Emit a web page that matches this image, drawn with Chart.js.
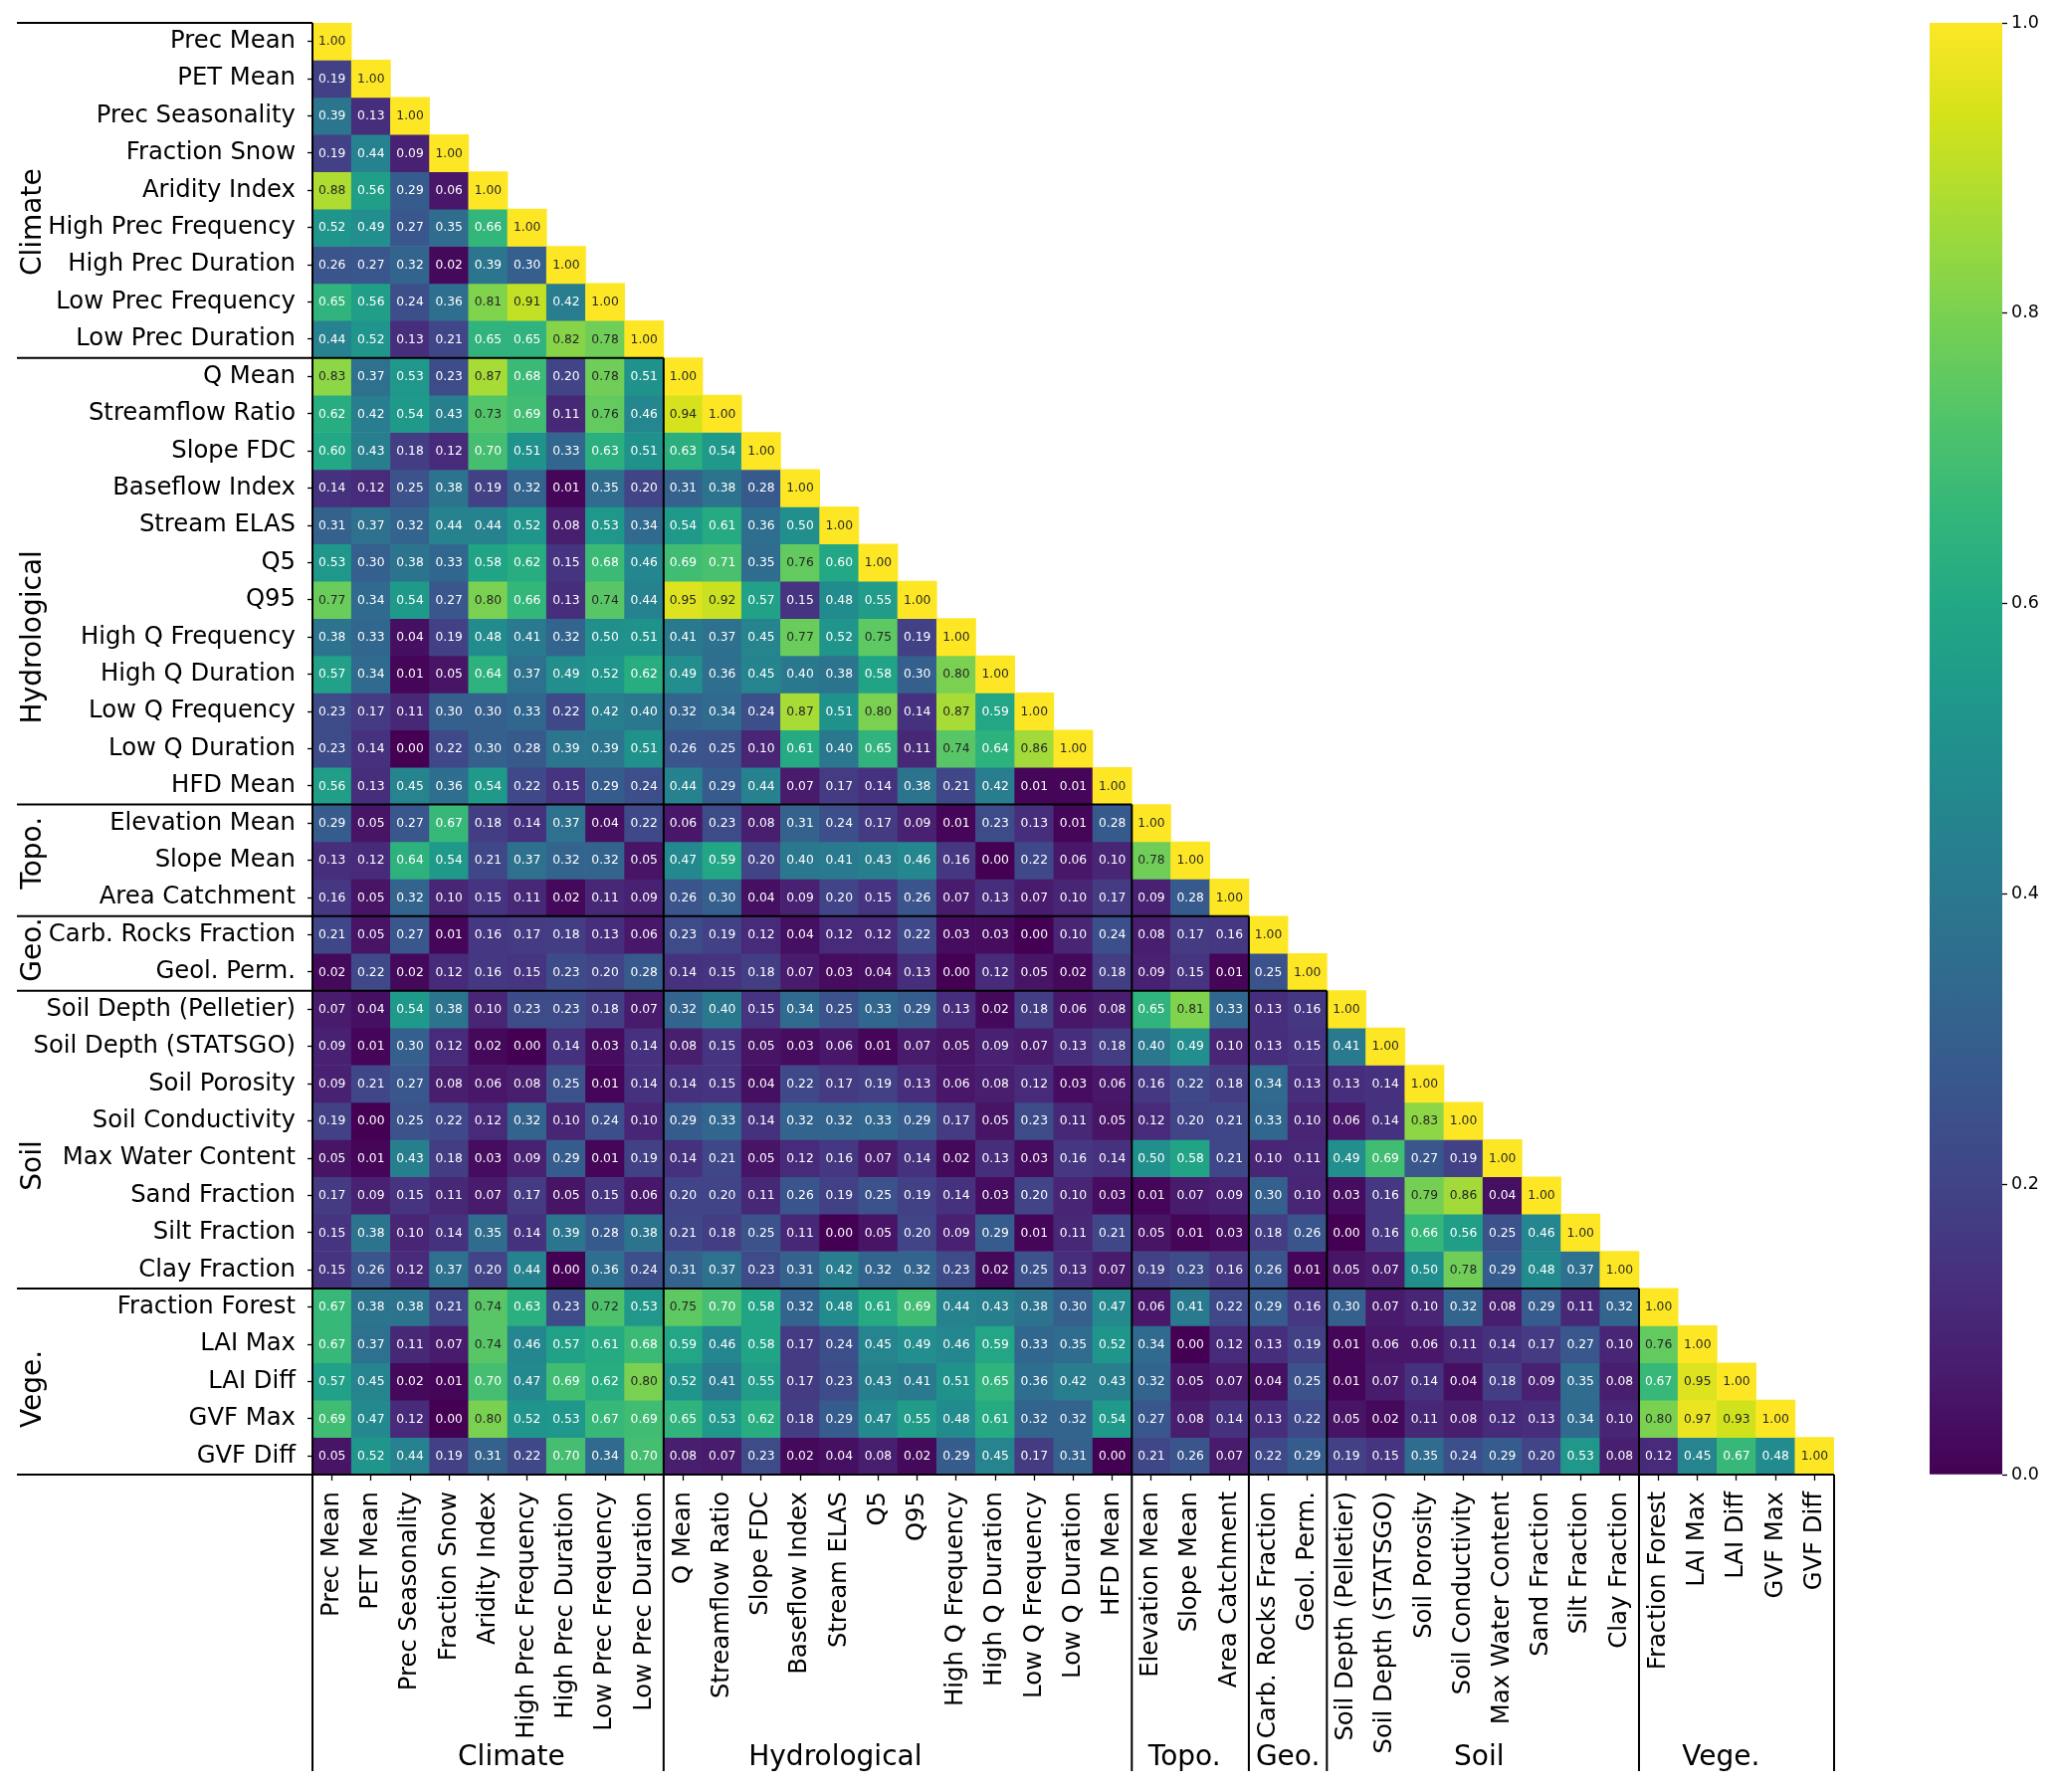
<!DOCTYPE html>
<html>
<head>
<meta charset="utf-8">
<title>Attribute correlation heatmap</title>
<script src="https://cdn.jsdelivr.net/npm/chart.js@4.4.0/dist/chart.umd.min.js"></script>
<style>
  html, body { margin: 0; padding: 0; background: #fff; }
  #wrap { position: relative; width: 2067px; height: 1801px; }
  #heat { position: absolute; left: 0; top: 0; }
  #cbar { position: absolute; left: 1900px; top: 0; }
</style>
</head>
<body>
<div id="wrap">
  <canvas id="heat" width="2067" height="1801"></canvas>
  <canvas id="cbar" width="167" height="1801"></canvas>
</div>
<script>
// attribute names per group
const climateLabels = ['Prec Mean', 'PET Mean', 'Prec Seasonality', 'Fraction Snow', 'Aridity Index',
    'High Prec Frequency', 'High Prec Duration', 'Low Prec Frequency', 'Low Prec Duration'];
const hydroLabels = ['Q Mean', 'Streamflow Ratio', 'Slope FDC', 'Baseflow Index', 'Stream ELAS', 'Q5', 'Q95',
    'High Q Frequency', 'High Q Duration', 'Low Q Frequency', 'Low Q Duration', 'HFD Mean'];
const topoLabels = ['Elevation Mean', 'Slope Mean', 'Area Catchment'];
const geoLabels = ['Carb. Rocks Fraction', 'Geol. Perm.'];
const soilLabels = ['Soil Depth (Pelletier)', 'Soil Depth (STATSGO)', 'Soil Porosity', 'Soil Conductivity',
    'Max Water Content', 'Sand Fraction', 'Silt Fraction', 'Clay Fraction'];
const vegeLabels = ['Fraction Forest', 'LAI Max', 'LAI Diff', 'GVF Max', 'GVF Diff'];
const groupNames = ['Climate', 'Hydrological', 'Topo.', 'Geo.', 'Soil', 'Vege.'];

// lower triangle rows (absolute correlation), grouped like the labels
const climateRows = [
    [1.00],
    [0.19, 1.00],
    [0.39, 0.13, 1.00],
    [0.19, 0.44, 0.09, 1.00],
    [0.88, 0.56, 0.29, 0.06, 1.00],
    [0.52, 0.49, 0.27, 0.35, 0.66, 1.00],
    [0.26, 0.27, 0.32, 0.02, 0.39, 0.30, 1.00],
    [0.65, 0.56, 0.24, 0.36, 0.81, 0.91, 0.42, 1.00],
    [0.44, 0.52, 0.13, 0.21, 0.65, 0.65, 0.82, 0.78, 1.00]
];
const hydroRows = [
    [0.83, 0.37, 0.53, 0.23, 0.87, 0.68, 0.20, 0.78, 0.51, 1.00],
    [0.62, 0.42, 0.54, 0.43, 0.73, 0.69, 0.11, 0.76, 0.46, 0.94, 1.00],
    [0.60, 0.43, 0.18, 0.12, 0.70, 0.51, 0.33, 0.63, 0.51, 0.63, 0.54, 1.00],
    [0.14, 0.12, 0.25, 0.38, 0.19, 0.32, 0.01, 0.35, 0.20, 0.31, 0.38, 0.28, 1.00],
    [0.31, 0.37, 0.32, 0.44, 0.44, 0.52, 0.08, 0.53, 0.34, 0.54, 0.61, 0.36, 0.50, 1.00],
    [0.53, 0.30, 0.38, 0.33, 0.58, 0.62, 0.15, 0.68, 0.46, 0.69, 0.71, 0.35, 0.76, 0.60, 1.00],
    [0.77, 0.34, 0.54, 0.27, 0.80, 0.66, 0.13, 0.74, 0.44, 0.95, 0.92, 0.57, 0.15, 0.48, 0.55, 1.00],
    [0.38, 0.33, 0.04, 0.19, 0.48, 0.41, 0.32, 0.50, 0.51, 0.41, 0.37, 0.45, 0.77, 0.52, 0.75, 0.19, 1.00],
    [0.57, 0.34, 0.01, 0.05, 0.64, 0.37, 0.49, 0.52, 0.62, 0.49, 0.36, 0.45, 0.40, 0.38, 0.58, 0.30, 0.80, 1.00],
    [0.23, 0.17, 0.11, 0.30, 0.30, 0.33, 0.22, 0.42, 0.40, 0.32, 0.34, 0.24, 0.87, 0.51, 0.80, 0.14, 0.87, 0.59, 1.00],
    [0.23, 0.14, 0.00, 0.22, 0.30, 0.28, 0.39, 0.39, 0.51, 0.26, 0.25, 0.10, 0.61, 0.40, 0.65, 0.11, 0.74, 0.64, 0.86, 1.00],
    [0.56, 0.13, 0.45, 0.36, 0.54, 0.22, 0.15, 0.29, 0.24, 0.44, 0.29, 0.44, 0.07, 0.17, 0.14, 0.38, 0.21, 0.42, 0.01, 0.01, 1.00]
];
const topoRows = [
    [0.29, 0.05, 0.27, 0.67, 0.18, 0.14, 0.37, 0.04, 0.22, 0.06, 0.23, 0.08, 0.31, 0.24, 0.17, 0.09, 0.01, 0.23, 0.13, 0.01, 0.28, 1.00],
    [0.13, 0.12, 0.64, 0.54, 0.21, 0.37, 0.32, 0.32, 0.05, 0.47, 0.59, 0.20, 0.40, 0.41, 0.43, 0.46, 0.16, 0.00, 0.22, 0.06, 0.10, 0.78, 1.00],
    [0.16, 0.05, 0.32, 0.10, 0.15, 0.11, 0.02, 0.11, 0.09, 0.26, 0.30, 0.04, 0.09, 0.20, 0.15, 0.26, 0.07, 0.13, 0.07, 0.10, 0.17, 0.09, 0.28, 1.00]
];
const geoRows = [
    [0.21, 0.05, 0.27, 0.01, 0.16, 0.17, 0.18, 0.13, 0.06, 0.23, 0.19, 0.12, 0.04, 0.12, 0.12, 0.22, 0.03, 0.03, 0.00, 0.10, 0.24, 0.08, 0.17, 0.16, 1.00],
    [0.02, 0.22, 0.02, 0.12, 0.16, 0.15, 0.23, 0.20, 0.28, 0.14, 0.15, 0.18, 0.07, 0.03, 0.04, 0.13, 0.00, 0.12, 0.05, 0.02, 0.18, 0.09, 0.15, 0.01, 0.25, 1.00]
];
const soilRows = [
    [0.07, 0.04, 0.54, 0.38, 0.10, 0.23, 0.23, 0.18, 0.07, 0.32, 0.40, 0.15, 0.34, 0.25, 0.33, 0.29, 0.13, 0.02, 0.18, 0.06, 0.08, 0.65, 0.81, 0.33, 0.13, 0.16, 1.00],
    [0.09, 0.01, 0.30, 0.12, 0.02, 0.00, 0.14, 0.03, 0.14, 0.08, 0.15, 0.05, 0.03, 0.06, 0.01, 0.07, 0.05, 0.09, 0.07, 0.13, 0.18, 0.40, 0.49, 0.10, 0.13, 0.15, 0.41, 1.00],
    [0.09, 0.21, 0.27, 0.08, 0.06, 0.08, 0.25, 0.01, 0.14, 0.14, 0.15, 0.04, 0.22, 0.17, 0.19, 0.13, 0.06, 0.08, 0.12, 0.03, 0.06, 0.16, 0.22, 0.18, 0.34, 0.13, 0.13, 0.14, 1.00],
    [0.19, 0.00, 0.25, 0.22, 0.12, 0.32, 0.10, 0.24, 0.10, 0.29, 0.33, 0.14, 0.32, 0.32, 0.33, 0.29, 0.17, 0.05, 0.23, 0.11, 0.05, 0.12, 0.20, 0.21, 0.33, 0.10, 0.06, 0.14, 0.83, 1.00],
    [0.05, 0.01, 0.43, 0.18, 0.03, 0.09, 0.29, 0.01, 0.19, 0.14, 0.21, 0.05, 0.12, 0.16, 0.07, 0.14, 0.02, 0.13, 0.03, 0.16, 0.14, 0.50, 0.58, 0.21, 0.10, 0.11, 0.49, 0.69, 0.27, 0.19, 1.00],
    [0.17, 0.09, 0.15, 0.11, 0.07, 0.17, 0.05, 0.15, 0.06, 0.20, 0.20, 0.11, 0.26, 0.19, 0.25, 0.19, 0.14, 0.03, 0.20, 0.10, 0.03, 0.01, 0.07, 0.09, 0.30, 0.10, 0.03, 0.16, 0.79, 0.86, 0.04, 1.00],
    [0.15, 0.38, 0.10, 0.14, 0.35, 0.14, 0.39, 0.28, 0.38, 0.21, 0.18, 0.25, 0.11, 0.00, 0.05, 0.20, 0.09, 0.29, 0.01, 0.11, 0.21, 0.05, 0.01, 0.03, 0.18, 0.26, 0.00, 0.16, 0.66, 0.56, 0.25, 0.46, 1.00],
    [0.15, 0.26, 0.12, 0.37, 0.20, 0.44, 0.00, 0.36, 0.24, 0.31, 0.37, 0.23, 0.31, 0.42, 0.32, 0.32, 0.23, 0.02, 0.25, 0.13, 0.07, 0.19, 0.23, 0.16, 0.26, 0.01, 0.05, 0.07, 0.50, 0.78, 0.29, 0.48, 0.37, 1.00]
];
const vegeRows = [
    [0.67, 0.38, 0.38, 0.21, 0.74, 0.63, 0.23, 0.72, 0.53, 0.75, 0.70, 0.58, 0.32, 0.48, 0.61, 0.69, 0.44, 0.43, 0.38, 0.30, 0.47, 0.06, 0.41, 0.22, 0.29, 0.16, 0.30, 0.07, 0.10, 0.32, 0.08, 0.29, 0.11, 0.32, 1.00],
    [0.67, 0.37, 0.11, 0.07, 0.74, 0.46, 0.57, 0.61, 0.68, 0.59, 0.46, 0.58, 0.17, 0.24, 0.45, 0.49, 0.46, 0.59, 0.33, 0.35, 0.52, 0.34, 0.00, 0.12, 0.13, 0.19, 0.01, 0.06, 0.06, 0.11, 0.14, 0.17, 0.27, 0.10, 0.76, 1.00],
    [0.57, 0.45, 0.02, 0.01, 0.70, 0.47, 0.69, 0.62, 0.80, 0.52, 0.41, 0.55, 0.17, 0.23, 0.43, 0.41, 0.51, 0.65, 0.36, 0.42, 0.43, 0.32, 0.05, 0.07, 0.04, 0.25, 0.01, 0.07, 0.14, 0.04, 0.18, 0.09, 0.35, 0.08, 0.67, 0.95, 1.00],
    [0.69, 0.47, 0.12, 0.00, 0.80, 0.52, 0.53, 0.67, 0.69, 0.65, 0.53, 0.62, 0.18, 0.29, 0.47, 0.55, 0.48, 0.61, 0.32, 0.32, 0.54, 0.27, 0.08, 0.14, 0.13, 0.22, 0.05, 0.02, 0.11, 0.08, 0.12, 0.13, 0.34, 0.10, 0.80, 0.97, 0.93, 1.00],
    [0.05, 0.52, 0.44, 0.19, 0.31, 0.22, 0.70, 0.34, 0.70, 0.08, 0.07, 0.23, 0.02, 0.04, 0.08, 0.02, 0.29, 0.45, 0.17, 0.31, 0.00, 0.21, 0.26, 0.07, 0.22, 0.29, 0.19, 0.15, 0.35, 0.24, 0.29, 0.20, 0.53, 0.08, 0.12, 0.45, 0.67, 0.48, 1.00]
];

// colour bar
const cbarRange = [0, 1];
const cbarTicks = [0.0, 0.2, 0.4, 0.6, 0.8, 1.0];

// where the group names sit (in cell units), as placed in the figure
const leftLabelPos = [5.35, 16.5, 22.3, 24.9, 30.7, 36.7];
const bottomLabelPos = [5.1, 13.4, 22.35, 25.0, 29.9, 36.1];

const labelGroups = [climateLabels, hydroLabels, topoLabels, geoLabels, soilLabels, vegeLabels];
const labels = labelGroups.flat();
const corr = [...climateRows, ...hydroRows, ...topoRows, ...geoRows, ...soilRows, ...vegeRows];
const N = labels.length;

// index where each group starts
const groupStarts = [];
let acc = 0;
labelGroups.forEach(g => { groupStarts.push(acc); acc += g.length; });

// viridis
const viridisStops = ['#440154', '#481a6c', '#472f7d', '#414487', '#39568c', '#31688e', '#2a788e', '#23888e',
    '#1f988b', '#22a884', '#35b779', '#54c568', '#7ad151', '#a5db36', '#d2e21b', '#fde725'];
const viridisRgb = viridisStops.map(h => [1, 3, 5].map(k => parseInt(h.substr(k, 2), 16)));

function viridisArr(v) {
    if (!Number.isFinite(v)) v = 0;
    const t = Math.max(0, Math.min(1, v)) * (viridisRgb.length - 1);
    const k = Math.min(Math.floor(t), viridisRgb.length - 2);
    const f = t - k;
    return viridisRgb[k].map((c, n) => c + (viridisRgb[k + 1][n] - c) * f);
}
function viridis(v) {
    const c = viridisArr(v);
    return `rgb(${c[0].toFixed(0)},${c[1].toFixed(0)},${c[2].toFixed(0)})`;
}
// same rule as seaborn's annotations
function textColor(v) {
    const lin = viridisArr(v).map(c => {
        c = c / 255;
        return c <= 0.03928 ? c / 12.92 : Math.pow((c + 0.055) / 1.055, 2.4);
    });
    const lum = 0.2126 * lin[0] + 0.7152 * lin[1] + 0.0722 * lin[2];
    return lum > 0.408 ? '#262626' : '#ffffff';
}
function cellValue(i, j) {
    const row = corr[i];
    return row && j !== undefined ? row[j] : undefined;
}
// keep Chart.js from pushing the plot area in for edge labels
function noEdgePadding(s) {
    s.paddingTop = 0;
    s.paddingBottom = 0;
    s.paddingLeft = 0;
    s.paddingRight = 0;
}

Chart.defaults.font.family = '"DejaVu Sans", sans-serif';
Chart.defaults.color = '#000';

const tickFont = { size: 24.3 };
const groupFont = '28px "DejaVu Sans"';
const lineLeftX = 17;
const lineBottomY = 1780;

const cellText = {
    id: 'cellText',
    afterDatasetsDraw(chart) {
        const ctx = chart.ctx;
        ctx.save();
        ctx.font = '12.3px "DejaVu Sans"';
        ctx.textAlign = 'center';
        ctx.textBaseline = 'middle';
        chart.data.datasets.forEach((ds, i) => {
            const meta = chart.getDatasetMeta(i);
            meta.data.forEach((bar, j) => {
                if (ds.data[j] == null) return;
                const v = corr[i][j];
                const p = bar.getProps(['x', 'y', 'base'], true);
                ctx.fillStyle = textColor(v);
                ctx.fillText(v.toFixed(2), p.x, (p.y + p.base) / 2 + 0.5);
            });
        });
        ctx.restore();
    }
};

const groupFrame = {
    id: 'groupFrame',
    afterDraw(chart) {
        const { ctx, scales: { x, y } } = chart;
        const colW = x.getPixelForValue(1) - x.getPixelForValue(0);
        const colEdge = k => x.getPixelForValue(0) - colW / 2 + k * colW;
        ctx.save();
        ctx.strokeStyle = '#000';
        ctx.lineWidth = 2;
        ctx.beginPath();
        [...groupStarts, N].forEach(s => {
            const yy = y.getPixelForValue(s);
            const xx = colEdge(s);
            ctx.moveTo(lineLeftX, yy);
            ctx.lineTo(xx, yy);
            ctx.moveTo(xx, yy);
            ctx.lineTo(xx, lineBottomY);
        });
        ctx.stroke();

        ctx.fillStyle = '#000';
        ctx.font = groupFont;
        ctx.textAlign = 'center';
        ctx.textBaseline = 'middle';
        groupNames.forEach((name, g) => {
            ctx.save();
            ctx.translate(34, y.getPixelForValue(leftLabelPos[g]));
            ctx.rotate(-Math.PI / 2);
            ctx.fillText(name, 0, 0);
            ctx.restore();
            ctx.fillText(name, colEdge(bottomLabelPos[g]), 1767);
        });
        ctx.restore();
    }
};

const datasets = corr.map((row, i) => ({
    label: labels[i],
    data: labels.map((_, j) => j < row.length ? [i, i + 1] : null),
    backgroundColor: c => viridis(cellValue(c.datasetIndex, c.dataIndex)),
    borderWidth: 0,
    grouped: false,
    categoryPercentage: 1,
    barPercentage: 1
}));

new Chart(document.getElementById('heat'), {
    type: 'bar',
    data: { labels: labels, datasets: datasets },
    options: {
        responsive: false,
        devicePixelRatio: 1,
        animation: false,
        layout: { padding: { left: 0, top: 23, right: 224, bottom: 0 } },
        plugins: { legend: { display: false }, tooltip: { enabled: false } },
        scales: {
            x: {
                type: 'category',
                offset: true,
                grid: { offset: false, drawOnChartArea: false, drawTicks: true, tickLength: 6,
                    tickColor: '#000', tickWidth: 1.3 },
                border: { display: false },
                ticks: { autoSkip: false, maxRotation: 90, minRotation: 90, padding: 11,
                    font: tickFont, color: '#000' },
                afterFit: s => { s.height = 319; noEdgePadding(s); }
            },
            y: {
                type: 'linear',
                min: 0,
                max: N,
                reverse: true,
                afterBuildTicks: s => { s.ticks = labels.map((_, i) => ({ value: i + 0.5 })); },
                grid: { drawOnChartArea: false, drawTicks: true, tickLength: 5,
                    tickColor: '#000', tickWidth: 1.3 },
                border: { display: false },
                ticks: { autoSkip: false, padding: 12, font: tickFont, color: '#000',
                    callback: v => labels[Math.floor(v)] },
                afterFit: s => { s.width = 314; noEdgePadding(s); }
            }
        }
    },
    plugins: [cellText, groupFrame]
});

new Chart(document.getElementById('cbar'), {
    type: 'bar',
    data: {
        labels: [''],
        datasets: [{
            data: [cbarRange],
            borderWidth: 0,
            barPercentage: 1,
            categoryPercentage: 1,
            backgroundColor: c => {
                const a = c.chart.chartArea;
                if (!a) return viridisStops[0];
                const g = c.chart.ctx.createLinearGradient(0, a.bottom, 0, a.top);
                viridisStops.forEach((col, k) => g.addColorStop(k / (viridisStops.length - 1), col));
                return g;
            }
        }]
    },
    options: {
        responsive: false,
        devicePixelRatio: 1,
        animation: false,
        layout: { padding: { left: 39, top: 23, right: 0, bottom: 319 } },
        plugins: { legend: { display: false }, tooltip: { enabled: false } },
        scales: {
            x: { display: false },
            y: {
                position: 'right',
                min: cbarRange[0],
                max: cbarRange[1],
                afterBuildTicks: s => { s.ticks = cbarTicks.map(v => ({ value: v })); },
                grid: { drawOnChartArea: false, drawTicks: true, tickLength: 5,
                    tickColor: '#000', tickWidth: 1.3 },
                border: { display: false },
                ticks: { padding: 4, font: { size: 17.5 }, color: '#000', callback: v => v.toFixed(1) },
                afterFit: s => { s.width = 55; noEdgePadding(s); }
            }
        }
    }
});
</script>
</body>
</html>
